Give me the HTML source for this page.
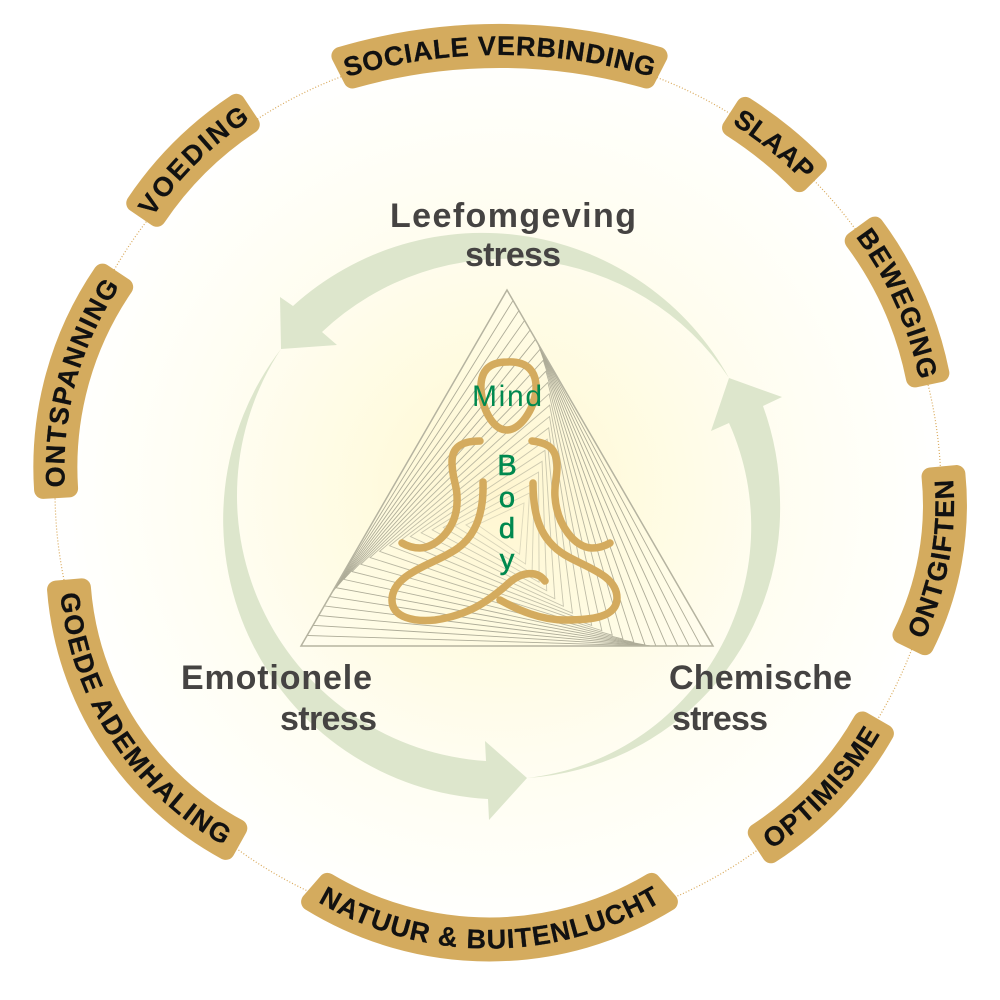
<!DOCTYPE html>
<html><head><meta charset="utf-8"><style>
html,body{margin:0;padding:0;background:#fff}
svg{display:block}
.b{fill:#d4ab5e;stroke:#d4ab5e;stroke-width:18;stroke-linejoin:round}
.t{font:700 27px "Liberation Sans",sans-serif;fill:#111;text-anchor:middle;stroke:#111;stroke-width:.25}
.l{font:700 34px "Liberation Sans",sans-serif;fill:#454342}
.m{font:400 30px "Liberation Sans",sans-serif;fill:#00894f}
.f{fill:none;stroke:#d4ab5e;stroke-width:7.5;stroke-linecap:round}
.tri{fill:none;stroke:#aeac98;stroke-width:.9;vector-effect:non-scaling-stroke}
</style></head><body>
<svg width="1000" height="1000" viewBox="0 0 1000 1000" xmlns="http://www.w3.org/2000/svg">
<defs>
<radialGradient id="bg" gradientUnits="userSpaceOnUse" cx="500" cy="492" r="446">
<stop offset="0" stop-color="#fff6d0"/><stop offset=".3" stop-color="#fffbe0"/><stop offset=".6" stop-color="#fffdf0"/><stop offset=".85" stop-color="#fffff9"/><stop offset="1" stop-color="#ffffff"/>
</radialGradient>
<clipPath id="cp"><polygon points="0,-237.3 206,118.7 -206,118.7"/></clipPath>
<polygon id="p" class="tri" points="0,-237.3 206,118.7 -206,118.7"/>
<path id="a1" d="M-190,43.5A540,540 0 0 1 190,43.5"/>
<path id="a2" d="M-82,17.7A391,391 0 0 1 82,17.7"/>
<path id="a3" d="M-114,28A351,351 0 0 1 114,28"/>
<path id="a4" d="M-121,-15.4A312,312 0 0 0 121,-15.4"/>
<path id="a5" d="M-118,-11.6A349,349 0 0 0 118,-11.6"/>
<path id="a6" d="M-207,-61.5A339,339 0 0 0 207,-61.5"/>
<path id="a7" d="M-186,-50.2A322,322 0 0 0 186,-50.2"/>
<path id="a8" d="M-143,42.4A323,323 0 0 1 143,42.4"/>
<path id="a9" d="M-105,25.6A341,341 0 0 1 105,25.6"/>
</defs>
<rect width="1000" height="1000" fill="#fff"/>
<circle cx="500" cy="492" r="446" fill="url(#bg)"/>
<circle cx="498" cy="491" r="443" fill="none" stroke="#d9a95a" stroke-width="1.2" stroke-dasharray="1 2"/>

<!-- green arrows -->
<g fill="#dde6cc">
<path d="M729,378A282,282 0 0 0 293,306L280,297L281,349L337,345L322,332A268,268 0 0 1 729,378Z"/>
<path d="M527,778A270,270 0 0 0 780,500A282,282 0 0 0 763,406L782,397L729,378L711,431L729,423A253,253 0 0 1 527,778Z"/>
<path d="M281,349A280,280 0 0 0 488,799L489,820L527,778L485,741L486,761A266,266 0 0 1 281,349Z"/>
</g>

<!-- triangle -->
<g transform="translate(507,527.3)">
<g clip-path="url(#cp)">
<use href="#p" transform="rotate(1.75) scale(.9626)"/>
<use href="#p" transform="rotate(3.5) scale(.9243)"/>
<use href="#p" transform="rotate(5.25) scale(.8851)"/>
<use href="#p" transform="rotate(7) scale(.8451)"/>
<use href="#p" transform="rotate(8.75) scale(.8043)"/>
<use href="#p" transform="rotate(10.5) scale(.7627)"/>
<use href="#p" transform="rotate(12.25) scale(.7205)" opacity=".95"/>
<use href="#p" transform="rotate(14) scale(.6776)" opacity=".92"/>
<use href="#p" transform="rotate(15.75) scale(.634)" opacity=".88"/>
<use href="#p" transform="rotate(17.5) scale(.5899)" opacity=".84"/>
<use href="#p" transform="rotate(19.25) scale(.5452)" opacity=".8"/>
<use href="#p" transform="rotate(21) scale(.4999)" opacity=".76"/>
<use href="#p" transform="rotate(22.75) scale(.4543)" opacity=".72"/>
<use href="#p" transform="rotate(24.5) scale(.4082)" opacity=".68"/>
<use href="#p" transform="rotate(26.25) scale(.3617)" opacity=".64"/>
<use href="#p" transform="rotate(28) scale(.3149)" opacity=".6"/>
<use href="#p" transform="rotate(29.75) scale(.2678)" opacity=".55"/>
<use href="#p" transform="rotate(31.5) scale(.2204)" opacity=".5"/>
<use href="#p" transform="rotate(33.25) scale(.1729)" opacity=".45"/>
<use href="#p" transform="rotate(35) scale(.1251)" opacity=".4"/>
</g>
<polygon points="0,-237.3 206,118.7 -206,118.7" fill="none" stroke="#b5b3a0" stroke-width="1.5"/></g>

<!-- figure -->
<path class="f" d="M507,362C528,361 537,372 536,390C534,410 520,430 507,430C494,430 483,412 481,390C480,372 488,362 507,362Z"/>
<path class="f" d="M480,441C465,441 452,445 452,462C452,480 458,485 457,503C456,530 435,548 420,548C412,548 407,546 402,543"/>
<path class="f" d="M532,441C548,443 557,448 557,467C557,478 554,485 555,497C557,525 575,548 592,548C600,548 605,546 610,543"/>
<path class="f" d="M483,482C484,515 475,540 450,553C430,565 392,575 392,600C392,618 415,622 435,620C470,615 490,600 510,582C522,572 537,570 545,581"/>
<path class="f" d="M533,483C533,515 540,540 565,555C585,567 617,575 617,598C617,618 590,620 565,620C540,620 518,610 500,600"/>

<text class="m" x="472" y="406" textLength="70">Mind</text>
<g class="m" text-anchor="middle" stroke="#00894f" stroke-width=".6" style="font-size:29px">
<text x="507" y="475">B</text><text x="507" y="507">o</text><text x="507" y="538">d</text><text x="507" y="569">y</text>
</g>

<text class="l" x="390" y="227" textLength="246">Leefomgeving</text>
<text class="l" x="465" y="266" textLength="96">stress</text>
<text class="l" x="181" y="689" textLength="191">Emotionele</text>
<text class="l" x="280" y="730" textLength="97">stress</text>
<text class="l" x="669" y="689" textLength="183">Chemische</text>
<text class="l" x="672" y="730" textLength="96">stress</text>

<!-- badges -->
<g transform="translate(499.5,46)"><path class="b" d="M-159.1,9.9A562,562 0 0 1 159.1,9.9L147,33.5A536,536 0 0 0 -147,33.5Z"/><text class="t"><textPath href="#a1" startOffset="50%" textLength="310">SOCIALE VERBINDING</textPath></text></g>
<g transform="translate(775,143.4) rotate(39)"><path class="b" d="M-46.8,-10.4A413,413 0 0 1 46.8,-10.4L44,15.5A387,387 0 0 0 -44,15.5Z"/><text class="t"><textPath href="#a2" startOffset="50%" textLength="92">SLAAP</textPath></text></g>
<g transform="translate(903.7,301) rotate(66)"><path class="b" d="M-80.7,-4.2A373,373 0 0 1 80.7,-4.2L75.3,21.2A347,347 0 0 0 -75.3,21.2Z"/><text class="t"><textPath href="#a3" startOffset="50%" textLength="158">BEWEGING</textPath></text></g>
<g transform="translate(940,560)"><g transform="rotate(100.4)"><path class="b" d="M-87.5,-.6A316,316 0 0 1 87.5,-.6L80.5,24.4A290,290 0 0 0 -80.5,24.4Z"/></g><g transform="rotate(-79.6)"><text class="t"><textPath href="#a4" startOffset="50%" textLength="165">ONTGIFTEN</textPath></text></g></g>
<g transform="translate(825.8,791.8)"><g transform="rotate(133.3)"><path class="b" d="M-83,-3A353,353 0 0 1 83,-3L77,22.3A327,327 0 0 0 -77,22.3Z"/></g><g transform="rotate(-46.7)"><text class="t"><textPath href="#a5" startOffset="50%" textLength="160">OPTIMISME</textPath></text></g></g>
<g transform="translate(489.5,939.5)"><g transform="rotate(180)"><path class="b" d="M-179.4,37.7A343,343 0 0 1 179.4,37.7L162.1,57.6A317,317 0 0 0 -162.1,57.6Z"/></g><text class="t"><textPath href="#a6" startOffset="50%" textLength="360">NATUUR &amp; BUITENLUCHT</textPath></text></g>
<g transform="translate(118.5,734.8)"><g transform="rotate(237)"><path class="b" d="M-155.8,26.7A326,326 0 0 1 155.8,26.7L143.6,49.6A300,300 0 0 0 -143.6,49.6Z"/></g><g transform="rotate(57)"><text class="t"><textPath href="#a7" startOffset="50%" textLength="312">GOEDE ADEMHALING</textPath></text></g></g>
<g transform="translate(67.2,379.7) rotate(-74.7)"><path class="b" d="M-112.6,5.8A345,345 0 0 1 112.6,5.8L104.4,30.5A319,319 0 0 0 -104.4,30.5Z"/><text class="t"><textPath href="#a8" startOffset="50%" textLength="212">ONTSPANNING</textPath></text></g>
<g transform="translate(190,157.2) rotate(-44.8)"><path class="b" d="M-71.2,-6A363,363 0 0 1 71.2,-6L66.2,19.6A337,337 0 0 0 -66.2,19.6Z"/><text class="t"><textPath href="#a9" startOffset="50%" textLength="139">VOEDING</textPath></text></g>
</svg>
</body></html>
